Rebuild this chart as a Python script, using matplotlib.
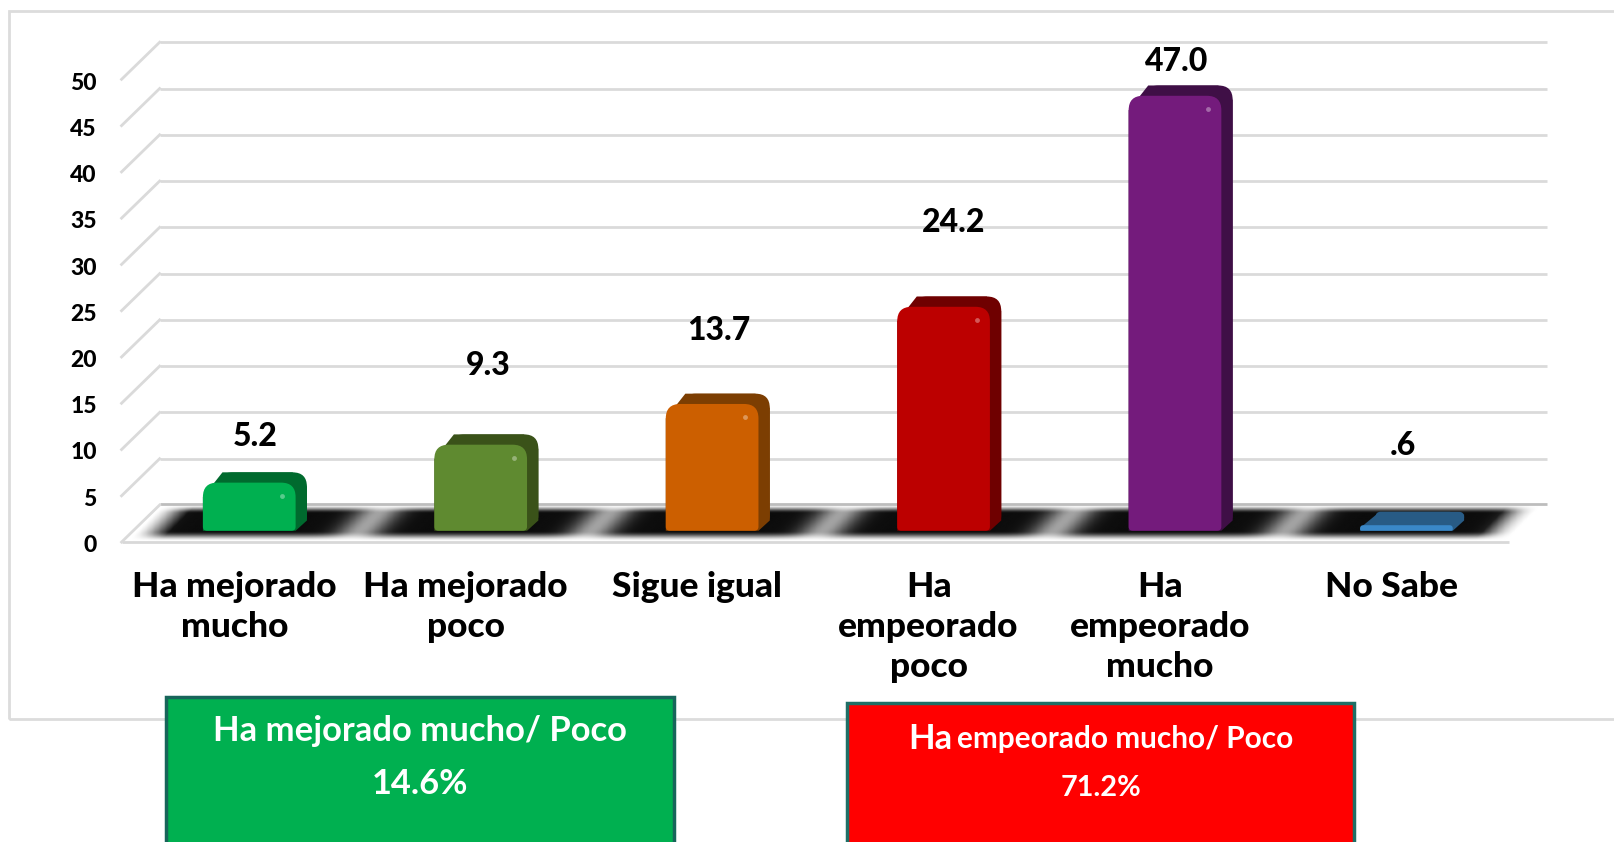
# -*- coding: utf-8 -*-
import numpy as np
import matplotlib
matplotlib.use('Agg')
import matplotlib.pyplot as plt
from matplotlib.patches import PathPatch, Polygon, Rectangle
from matplotlib.path import Path

categorias = ['Ha mejorado\nmucho', 'Ha mejorado\npoco', 'Sigue igual',
              'Ha\nempeorado\npoco', 'Ha\nempeorado\nmucho', 'No Sabe']
valores = [5.2, 9.3, 13.7, 24.2, 47.0, 0.6]
etiquetas = ['5.2', '9.3', '13.7', '24.2', '47.0', '.6']
ticks = [0, 5, 10, 15, 20, 25, 30, 35, 40, 45, 50]
cores_frente = ['#00B050', '#5F8A30', '#CC5F00', '#BC0000', '#741B7C', '#3A88C8']
cores_fundo = ['#006A2E', '#3A5219', '#7C3E02', '#6F0000', '#3F0F46', '#285B85']

# chart units per pixel of the shrunk reference
PX = 1 / 224.7
PY = 1 / 8.98
X0 = 242
Y0 = 515
FONTE = 'Lato'

fig = plt.figure(figsize=(16.15, 8.42), dpi=100)
ax = fig.add_axes([0, 0, 1, 1])
ax.set_xlim(-X0 * PX, (1568 - X0) * PX)
ax.set_ylim((Y0 - 817) * PY, Y0 * PY)
ax.axis('off')


def fx(x):
    return x / 1568


def fy(y):
    return 1 - y / 817


def caixa(x0, x1, y0, y1, rt, rb):
    # box with bigger corners on top than on the bottom
    h = (y1 - y0) / PY
    rt = min(rt, h * 0.6)
    rb = min(rb, h * 0.3)
    rtx, rty, rbx, rby = rt * PX, rt * PY, rb * PX, rb * PY
    verts = [(x0 + rbx, y0), (x1 - rbx, y0), (x1, y0), (x1, y0 + rby),
             (x1, y1 - rty), (x1, y1), (x1 - rtx, y1),
             (x0 + rtx, y1), (x0, y1), (x0, y1 - rty),
             (x0, y0 + rby), (x0, y0), (x0 + rbx, y0), (x0 + rbx, y0)]
    codes = [Path.MOVETO, Path.LINETO, Path.CURVE3, Path.CURVE3,
             Path.LINETO, Path.CURVE3, Path.CURVE3,
             Path.LINETO, Path.CURVE3, Path.CURVE3,
             Path.LINETO, Path.CURVE3, Path.CURVE3, Path.CLOSEPOLY]
    return Path(verts, codes)


# outer frame of the chart
fig.add_artist(Rectangle((fx(9), fy(698)), 1.1, fy(11) - fy(698), fill=False,
                         edgecolor='#DCDCDC', linewidth=2))

# floor shadow
xf0, xf1 = (118 - X0) * PX, (1465 - X0) * PX
desl = (155 - 118) * PX
yf0, yf1 = (Y0 - 526) * PY, (Y0 - 489) * PY
xx, yy = np.meshgrid(np.linspace(xf0, xf1 + desl, 1200),
                     np.linspace(yf0, yf1, 120))
t = (yy - yf0) / (yf1 - yf0)
s = xx - t * desl
dist = np.abs(((s + 0.07) % 1) - 0.5)
vertical = np.clip((t - 0.02) / 0.26, 0, 1) * np.clip((1 - t - 0.04) / 0.22, 0, 1)
vertical = vertical * vertical * (3 - 2 * vertical)
horizontal = 1 - 0.62 * np.exp(-(dist / 0.1) ** 2)
pontas = np.clip((s - xf0 - 0.02) / 0.14, 0, 1) * np.clip((xf1 - s - 0.02) / 0.14, 0, 1)
escuro = vertical * horizontal * pontas
cinza = 1 - 0.95 * escuro
im = ax.imshow(cinza, extent=[xf0, xf1 + desl, yf0, yf1], origin='lower',
               cmap='gray', vmin=0, vmax=1, aspect='auto', zorder=2)
piso = Polygon([(xf0, yf0), (xf1, yf0), (xf1 + desl, yf1), (xf0 + desl, yf1)],
               closed=True, facecolor='none', edgecolor='none',
               transform=ax.transData)
ax.add_patch(piso)
im.set_clip_path(piso)
ax.set_xlim(-X0 * PX, (1568 - X0) * PX)
ax.set_ylim((Y0 - 817) * PY, Y0 * PY)
ax.plot([xf0, xf1], [yf0, yf0], color='#D8D8D8', lw=2, zorder=3, solid_capstyle='butt')
ax.plot([xf0 + desl, xf1 + desl], [yf1, yf1], color='#BDBDBD', lw=2, zorder=3,
        solid_capstyle='butt')

# walls: back grid lines and the diagonals on the left
for v in ticks:
    yb = v + (Y0 - 490) * PY
    yfr = v + yf0
    if v > 0:
        ax.plot([xf0 + desl, xf1 + desl], [yb, yb], color='#DADADA', lw=2, zorder=1,
                solid_capstyle='butt')
    ax.plot([xf0, xf0 + desl], [yfr, yb], color='#DADADA', lw=2, zorder=3 if v == 0 else 1)
    ax.text((94 - X0) * PX, v * 8.96 / 8.98 + (Y0 - 529) * PY, str(v), ha='right', va='center',
            fontsize=16.5, fontweight='black', family=FONTE, color='#000000', zorder=6)

# bars
larg = 45 * PX
dx, dy = 11 * PX, 10 * PY
for i, v in enumerate(valores):
    x0, x1 = i - larg, i + larg
    topo = v + dy + (3 * PY if v < 1 else 0)
    ax.add_patch(PathPatch(caixa(x0 + 15 * PX, x1 + dx, dy, topo, 14, 4),
                           facecolor=cores_fundo[i], edgecolor='none', zorder=4))
    canto = min(14 * PY, v * 0.5)
    ax.add_patch(Polygon([(x0, 0), (x0, max(v - 14 * PY, v * 0.5)), (x0 + 19 * PX, topo),
                          (x1 + dx - 14 * PX, topo), (x1 + dx, topo - canto),
                          (x1 + dx, dy), (x1, 0)],
                         closed=True, facecolor=cores_fundo[i], edgecolor='none', zorder=4))
    ax.add_patch(PathPatch(caixa(x0, x1, 0, v, 14, 4), facecolor=cores_frente[i],
                           edgecolor='none', zorder=5))
    if v > 1:
        ax.plot([x1 - 13 * PX], [v - 13 * PY], marker='o', ms=3.5, mew=0,
                color='#FFFFFF', alpha=0.35, zorder=6)

# value labels, each one sits at its own height above the bar
alturas = [35, 67, 61, 72, 23, 67]
desloc_x = [6, 7, 6, 10, 2, -3]
for i, v in enumerate(valores):
    ax.annotate(etiquetas[i], xy=(i, v + dy), xytext=(desloc_x[i] * 1.03 * 0.72, alturas[i] * 1.03 * 0.72),
                textcoords='offset points', ha='center', va='center', fontsize=23,
                fontweight='black', family=FONTE, color='#000000', zorder=7)

# category labels
for i, c in enumerate(categorias):
    ax.text(i - 14.5 * PX, (Y0 - 554) * PY, c, ha='center', va='top', fontsize=25.5,
            fontweight='black', family=FONTE, color='#000000', linespacing=1.3, zorder=6)

# summary boxes
fig.add_artist(Rectangle((fx(161), fy(830)), fx(654) - fx(161), fy(676) - fy(830),
                         facecolor='#00B050', edgecolor='#17655A', linewidth=2.5, zorder=8))
fig.add_artist(Rectangle((fx(822), fy(830)), fx(1315) - fx(822), fy(682) - fy(830),
                         facecolor='#FF0000', edgecolor='#1F6F66', linewidth=2.5, zorder=8))
fig.text(fx(408), fy(709), 'Ha mejorado mucho/ Poco', ha='center', va='center', color='white',
         fontsize=24.9, fontweight='bold', family=FONTE, zorder=9)
fig.text(fx(408), fy(761), '14.6%', ha='center', va='center', color='white',
         fontsize=24.8, fontweight='bold', family=FONTE, zorder=9)
fig.text(fx(882), fy(717), 'Ha', ha='left', va='center', color='white',
         fontsize=24.9, fontweight='bold', family=FONTE, zorder=9)
fig.text(fx(929), fy(717), 'empeorado mucho/ Poco', ha='left', va='center', color='white',
         fontsize=21.4, fontweight='bold', family=FONTE, zorder=9)
fig.text(fx(1069), fy(765), '71.2%', ha='center', va='center', color='white',
         fontsize=20.8, fontweight='bold', family=FONTE, zorder=9)

fig.savefig('out.png', dpi=100)
